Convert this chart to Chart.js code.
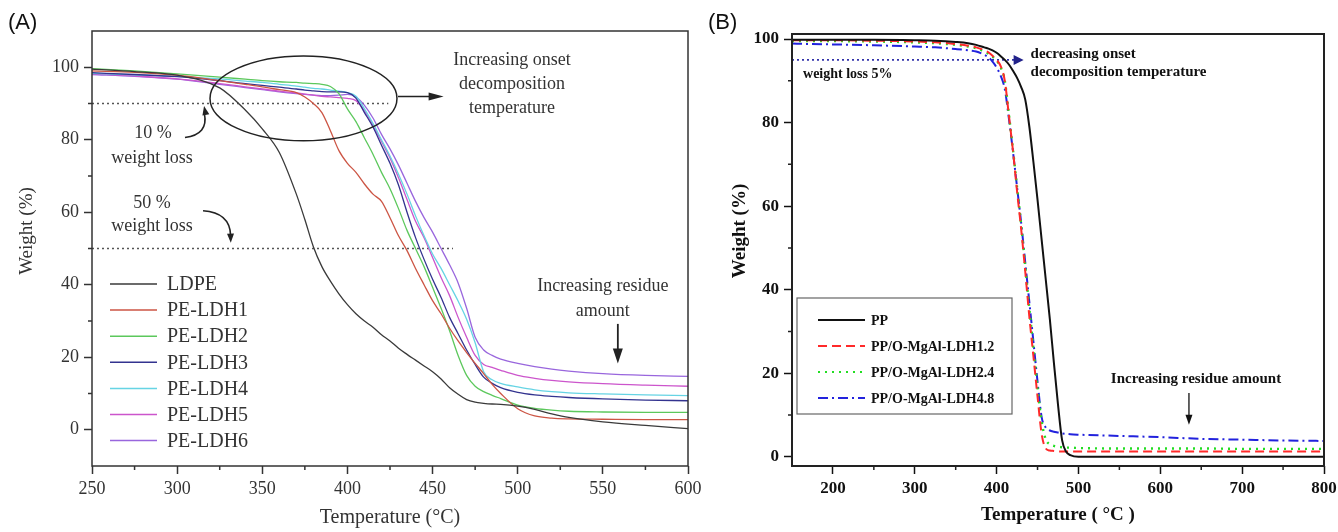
<!DOCTYPE html>
<html><head><meta charset="utf-8">
<script src="https://cdn.jsdelivr.net/npm/chart.js@4.4.1/dist/chart.umd.min.js"></script>
<style>
html,body{margin:0;padding:0;background:#fff;width:1338px;height:532px;overflow:hidden;}
#ca{position:absolute;left:0;top:0;}
#cb{position:absolute;left:700px;top:0;}
</style></head><body>
<canvas id="ca" width="720" height="532"></canvas>
<canvas id="cb" width="638" height="532"></canvas>
<script>
// ---------- Panel A data ----------
const tempA = [250,275,300,325,340,350,360,370,375,380,385,390,395,400,405,410,415,420,425,430,435,440,445,450,455,460,465,470,475,480,485,490,500,510,520,530,550,575,600];
const LDPE    = [99.5,98.8,97.8,94.3,88.2,83,76.5,65,58,50.5,45,41,37.5,34.5,32,30,28.3,26.2,24.5,22.5,20.8,19.2,17.6,16,14,11.6,9.8,8.3,7.6,7.3,7.1,7,6.5,5.6,4.4,3.4,2.2,1.2,0.3];
const PE_LDH1 = [99,98.6,97.8,96.3,95.3,94.6,93.8,93,91.8,90,87.5,82.5,77,73.5,71,67.8,65,63,58.5,53.5,49.4,44.5,40,35.6,32,28,24.5,21.3,18.3,15.5,12.5,10,5.8,3.8,3.2,3,2.9,2.8,2.8];
const PE_LDH2 = [99.6,99,98.2,97.3,96.7,96.3,96,95.8,95.6,95.5,95.3,94.7,92.7,88.5,85,80.5,76,71,66.5,61,55,50,45,39.3,33.5,27.3,20.5,15,12,10.5,9.5,8.6,6.8,5.9,5.4,5.1,4.9,4.8,4.8];
const PE_LDH3 = [98.5,98,97.4,96.3,95.5,95,94.5,94,93.7,93.5,93.3,93.2,93.2,93,91.5,87.5,83.5,78.5,73.5,67.5,60,53,47,41.5,36.5,31,26.5,22,18,14.5,12.8,11.6,10.3,9.6,9.2,8.9,8.5,8.2,8];
const PE_LDH4 = [98.3,97.9,97.5,96.8,96.2,95.8,95.3,94.8,94.5,94.2,94,93.7,93.4,93,92,88.5,84.5,80,75.5,70.5,65,59,53.5,48.5,44.5,40,35.5,30.5,24,16,13.8,12.8,11.8,11,10.5,10.2,9.9,9.6,9.4];
const PE_LDH5 = [98.2,97.6,96.8,95.5,94.6,94,93.4,92.9,92.6,92.3,92,91.8,91.6,91.4,90.8,88,84,79.5,75,69.5,63.5,57.5,53,47.5,42,37,31,25.5,20.5,18,17.2,16.4,15,14.2,13.6,13.2,12.7,12.3,12];
const PE_LDH6 = [98,97.5,96.7,95.3,94.4,93.8,93.2,92.7,92.5,92.3,92.2,92.2,92.3,92.5,91.8,89.5,86,81.5,77.5,73,68,63,58.5,54.5,50,45.5,40.5,33.5,25.5,22,20.5,19.5,18.3,17.4,16.7,16.2,15.5,15,14.7];
const labelsA = ['LDPE','PE-LDH1','PE-LDH2','PE-LDH3','PE-LDH4','PE-LDH5','PE-LDH6'];
const xTicksA = [250,300,350,400,450,500,550,600];
const yTicksA = [0,20,40,60,80,100];
const xMinorA = [275,325,375,425,475,525,575];
const yMinorA = [10,30,50,70,90];

// ---------- Panel B data ----------
const tempB = [150,200,250,300,325,350,365,375,385,390,395,400,405,410,415,420,425,430,435,440,445,450,455,460,465,470,475,480,485,490,500,550,600,650,700,750,800];
const PP     = [99.8,99.8,99.8,99.7,99.6,99.3,99,98.6,98,97.7,97.3,96.7,95.9,95,93.9,92.4,90.7,88.5,85.5,79,70.5,61.5,52,42.5,33,22.5,12.5,4,1.2,0.4,0,0,0,0,0,0,0];
const LDH1_2 = [99.7,99.7,99.6,99.4,99.2,98.8,98.4,98,97.3,96.8,96,95,93.5,90,81.7,73.2,63.5,54.5,44.3,33.5,24,14.4,5.5,2,1.5,1.4,1.3,1.3,1.3,1.3,1.3,1.3,1.3,1.3,1.3,1.3,1.3];
const LDH2_4 = [99.5,99.5,99.4,99.2,99,98.6,98.2,97.8,97,96.5,95.8,94.8,93.2,90,82,73.5,64.5,55.5,45.5,35.5,26,16.5,8.5,4.2,3,2.6,2.4,2.3,2.2,2.2,2.1,2,2,2,1.9,1.9,1.9];
const LDH4_8 = [98.9,98.7,98.5,98.2,98,97.6,97.3,97,96.2,95.6,94.6,93.2,91.2,88,81,73,64.5,56,46.5,37,27.5,18,9.5,7,6.3,6,5.8,5.6,5.5,5.4,5.3,5,4.7,4.3,4.1,3.9,3.8];
const labelsB = ['PP','PP/O-MgAl-LDH1.2','PP/O-MgAl-LDH2.4','PP/O-MgAl-LDH4.8'];
const xTicksB = [200,300,400,500,600,700,800];
const yTicksB = [0,20,40,60,80,100];
const xMinorB = [250,350,450,550,650,750];
const yMinorB = [10,30,50,70,90];

// ---------- styles ----------
const stylesA = [
  {color:'#3a3a3a'}, {color:'#cc5544'}, {color:'#5cc85c'}, {color:'#33338f'},
  {color:'#66d4e4'}, {color:'#cc55cc'}, {color:'#9966dd'}
];
const stylesB = [
  {color:'#111111', dash:[]}, {color:'#ff2a2a', dash:[9,5]},
  {color:'#22dd22', dash:[2,5]}, {color:'#2222dd', dash:[10,4,2,4]}
];
const SERIF = "'Liberation Serif','Times New Roman',serif";
const SANS = "'Liberation Sans',Arial,sans-serif";

function pts(xs, ys){ return xs.map((x,i)=>({x:x, y:ys[i]})); }

function axis(min, max, ticksArr, font, color, isX, size, pad, title){
  const a = {
    type:'linear', min:min, max:max,
    afterBuildTicks: s => { s.ticks = ticksArr.map(v => ({value:v})); },
    ticks: { font:font, color:color, padding:pad, maxRotation:0, autoSkip:false, callback: v => String(v) },
    grid: { display:true, drawOnChartArea:false, drawTicks:true, tickLength:8, tickColor:color, tickWidth:1.5 },
    border: { display:false },
    afterFit: s => {
      if (isX) s.height = size; else s.width = size;
      s.paddingLeft = 0; s.paddingRight = 0; s.paddingTop = 0; s.paddingBottom = 0;
    }
  };
  if (title) a.title = title; else a.title = {display:false};
  return a;
}

function arrowHead(ctx, x, y, ang, len, half, color){
  ctx.save(); ctx.fillStyle = color; ctx.setLineDash([]); ctx.beginPath();
  ctx.moveTo(x, y);
  ctx.lineTo(x - len*Math.cos(ang) + half*Math.sin(ang), y - len*Math.sin(ang) - half*Math.cos(ang));
  ctx.lineTo(x - len*Math.cos(ang) - half*Math.sin(ang), y - len*Math.sin(ang) + half*Math.cos(ang));
  ctx.closePath(); ctx.fill(); ctx.restore();
}

function frameAndMinor(chart, color, lw, xMinor, yMinor){
  const ctx = chart.ctx, a = chart.chartArea;
  const xs = chart.scales.x, ys = chart.scales.y;
  ctx.save();
  ctx.strokeStyle = color; ctx.lineWidth = lw; ctx.setLineDash([]);
  ctx.strokeRect(a.left, a.top, a.right - a.left, a.bottom - a.top);
  ctx.lineWidth = 1.5;
  ctx.beginPath();
  xMinor.forEach(v => { const px = xs.getPixelForValue(v); ctx.moveTo(px, a.bottom); ctx.lineTo(px, a.bottom + 4); });
  yMinor.forEach(v => { const py = ys.getPixelForValue(v); ctx.moveTo(a.left, py); ctx.lineTo(a.left - 4, py); });
  ctx.stroke();
  ctx.restore();
}

// ---------- Panel A ----------
const plugA = {
  id:'panelA',
  beforeDatasetsDraw(chart){
    const ctx = chart.ctx, X = v => chart.scales.x.getPixelForValue(v), Y = v => chart.scales.y.getPixelForValue(v);
    ctx.save();
    ctx.strokeStyle = '#555'; ctx.lineWidth = 1.5; ctx.setLineDash([2,3]);
    ctx.beginPath(); ctx.moveTo(X(250), Y(90)); ctx.lineTo(X(424), Y(90)); ctx.stroke();
    ctx.beginPath(); ctx.moveTo(X(250), Y(50)); ctx.lineTo(X(462), Y(50)); ctx.stroke();
    ctx.restore();
  },
  afterDraw(chart){
    const ctx = chart.ctx, X = v => chart.scales.x.getPixelForValue(v), Y = v => chart.scales.y.getPixelForValue(v);
    frameAndMinor(chart, '#333', 1.5, xMinorA, yMinorA);
    ctx.save();
    ctx.fillStyle = '#333'; ctx.strokeStyle = '#222';
    // y title
    ctx.save(); ctx.translate(27, 231); ctx.rotate(-Math.PI/2);
    ctx.font = '19px ' + SERIF; ctx.textAlign = 'center'; ctx.textBaseline = 'middle';
    ctx.fillText('Weight (%)', 0, 0); ctx.restore();
    // ellipse
    const cx = X(374.2), cy = Y(91.4);
    const rx = X(374.2 + 54.9) - cx, ry = cy - Y(91.4 + 11.7);
    ctx.lineWidth = 1.5; ctx.beginPath(); ctx.ellipse(cx, cy, rx, ry, 0, 0, Math.PI*2); ctx.stroke();
    // arrow to label
    ctx.lineWidth = 1.5; ctx.beginPath(); ctx.moveTo(X(429.7), Y(91.9)); ctx.lineTo(X(450), Y(91.9)); ctx.stroke();
    arrowHead(ctx, X(456.5), Y(91.9), 0, 15, 4, '#222');
    // texts
    ctx.font = '18px ' + SERIF; ctx.textAlign = 'center'; ctx.textBaseline = 'middle';
    ctx.fillText('Increasing onset', X(496.6), Y(101.8));
    ctx.fillText('decomposition', X(496.6), Y(95.2));
    ctx.fillText('temperature', X(496.6), Y(88.6));
    ctx.fillText('10 %', X(285.8), Y(81.7));
    ctx.fillText('weight loss', X(285.2), Y(74.8));
    ctx.fillText('50 %', X(285.2), Y(62.6));
    ctx.fillText('weight loss', X(285.2), Y(56));
    ctx.fillText('Increasing residue', X(550), Y(39.7));
    ctx.fillText('amount', X(550), Y(32.8));
    // curved arrows
    ctx.lineWidth = 1.6;
    let sx = X(304.6), sy = Y(80.6), qx = X(318.5), qy = Y(81.5), ex = X(316), ey = Y(87.2);
    ctx.beginPath(); ctx.moveTo(sx, sy); ctx.quadraticCurveTo(qx, qy, ex, ey); ctx.stroke();
    arrowHead(ctx, X(315.8), Y(89.3), Math.atan2(ey - qy, ex - qx), 9, 3.5, '#222');
    sx = X(315.2); sy = Y(60.4); qx = X(331); qy = Y(59.9); ex = X(331.4); ey = Y(53.6);
    ctx.beginPath(); ctx.moveTo(sx, sy); ctx.quadraticCurveTo(qx, qy, ex, ey); ctx.stroke();
    arrowHead(ctx, X(331.5), Y(51.6), Math.atan2(ey - qy, ex - qx), 9, 3.5, '#222');
    // residue arrow
    ctx.lineWidth = 1.8; ctx.beginPath(); ctx.moveTo(X(558.8), Y(29.2)); ctx.lineTo(X(558.8), Y(21)); ctx.stroke();
    arrowHead(ctx, X(558.8), Y(18.3), Math.PI/2, 15, 5, '#222');
    // legend
    const lx = 110, ly = 284, gap = 26.1;
    ctx.font = '20px ' + SERIF; ctx.textAlign = 'left'; ctx.textBaseline = 'middle';
    chart.data.datasets.forEach((d, i) => {
      const y = ly + i*gap;
      ctx.strokeStyle = d.borderColor; ctx.lineWidth = 1.5; ctx.setLineDash([]);
      ctx.beginPath(); ctx.moveTo(lx, y); ctx.lineTo(lx + 47, y); ctx.stroke();
      ctx.fillStyle = '#333'; ctx.fillText(d.label, lx + 57, y + 1);
    });
    // panel label
    ctx.fillStyle = '#111'; ctx.font = '22px ' + SANS; ctx.textAlign = 'left'; ctx.textBaseline = 'middle';
    ctx.fillText('(A)', 8, 23);
    ctx.restore();
  }
};

const dataSetsA = [LDPE, PE_LDH1, PE_LDH2, PE_LDH3, PE_LDH4, PE_LDH5, PE_LDH6].map((arr, i) => ({
  label: labelsA[i], data: pts(tempA, arr), borderColor: stylesA[i].color,
  borderWidth: 1.3, pointRadius: 0, cubicInterpolationMode: 'monotone', fill: false
}));

new Chart(document.getElementById('ca'), {
  type: 'line',
  data: { datasets: dataSetsA },
  options: {
    responsive: false, animation: false, devicePixelRatio: 1,
    layout: { padding: { top: 31, right: 32, left: 0, bottom: 0 } },
    plugins: { legend: { display: false }, tooltip: { enabled: false } },
    scales: {
      x: axis(250, 600, xTicksA, {family: SERIF, size: 18}, '#333', true, 66, 4,
        {display: true, text: 'Temperature (°C)', color: '#333', font: {family: SERIF, size: 20}, padding: {top: 0, bottom: 2}}),
      y: axis(-10, 110, yTicksA, {family: SERIF, size: 18}, '#333', false, 92, 5, null)
    }
  },
  plugins: [plugA]
});

// ---------- Panel B ----------
const plugB = {
  id:'panelB',
  beforeDatasetsDraw(chart){
    const ctx = chart.ctx, X = v => chart.scales.x.getPixelForValue(v), Y = v => chart.scales.y.getPixelForValue(v);
    ctx.save();
    ctx.strokeStyle = '#3333aa'; ctx.lineWidth = 1.6; ctx.setLineDash([2,3]);
    ctx.beginPath(); ctx.moveTo(X(150), Y(95)); ctx.lineTo(X(424), Y(95)); ctx.stroke();
    ctx.restore();
    arrowHead(ctx, X(433), Y(95), 0, 10, 5, '#22228a');
  },
  afterDraw(chart){
    const ctx = chart.ctx, X = v => chart.scales.x.getPixelForValue(v), Y = v => chart.scales.y.getPixelForValue(v);
    frameAndMinor(chart, '#222', 2, xMinorB, yMinorB);
    ctx.save();
    ctx.fillStyle = '#111'; ctx.strokeStyle = '#111';
    ctx.save(); ctx.translate(40, 231); ctx.rotate(-Math.PI/2);
    ctx.font = 'bold 19px ' + SERIF; ctx.textAlign = 'center'; ctx.textBaseline = 'middle';
    ctx.fillText('Weight (%)', 0, 0); ctx.restore();
    ctx.font = 'bold 14px ' + SERIF; ctx.textAlign = 'left'; ctx.textBaseline = 'middle';
    ctx.fillText('weight loss 5%', X(163.5), Y(91.5));
    ctx.font = 'bold 15px ' + SERIF;
    ctx.fillText('decreasing onset', X(441.5), Y(96.3));
    ctx.fillText('decomposition temperature', X(441.5), Y(92));
    ctx.textAlign = 'center';
    ctx.fillText('Increasing residue amount', X(643.6), Y(18.7));
    ctx.lineWidth = 1.3; ctx.setLineDash([]);
    ctx.beginPath(); ctx.moveTo(X(635), Y(15.3)); ctx.lineTo(X(635), Y(9.5)); ctx.stroke();
    arrowHead(ctx, X(635), Y(7.7), Math.PI/2, 10, 3.5, '#111');
    // legend box
    ctx.strokeStyle = '#666'; ctx.lineWidth = 1.2;
    ctx.strokeRect(97, 298, 215, 116);
    const lx = 118, ly = 320, gap = 26;
    ctx.font = 'bold 14px ' + SERIF; ctx.textAlign = 'left'; ctx.textBaseline = 'middle';
    chart.data.datasets.forEach((d, i) => {
      const y = ly + i*gap;
      ctx.strokeStyle = d.borderColor; ctx.lineWidth = 2; ctx.setLineDash(d.borderDash || []);
      ctx.beginPath(); ctx.moveTo(lx, y); ctx.lineTo(lx + 47, y); ctx.stroke();
      ctx.fillStyle = '#111'; ctx.fillText(d.label, lx + 53, y + 1);
    });
    ctx.setLineDash([]);
    ctx.fillStyle = '#111'; ctx.font = '22px ' + SANS; ctx.textAlign = 'left'; ctx.textBaseline = 'middle';
    ctx.fillText('(B)', 8, 23);
    ctx.restore();
  }
};

const dataSetsB = [PP, LDH1_2, LDH2_4, LDH4_8].map((arr, i) => ({
  label: labelsB[i], data: pts(tempB, arr), borderColor: stylesB[i].color, borderDash: stylesB[i].dash,
  borderWidth: i === 2 ? 2.4 : 2, pointRadius: 0, cubicInterpolationMode: 'monotone', fill: false
}));

new Chart(document.getElementById('cb'), {
  type: 'line',
  data: { datasets: dataSetsB },
  options: {
    responsive: false, animation: false, devicePixelRatio: 1,
    layout: { padding: { top: 34, right: 14, left: 0, bottom: 0 } },
    plugins: { legend: { display: false }, tooltip: { enabled: false } },
    scales: {
      x: axis(150, 800, xTicksB, {family: SERIF, size: 17, weight: 'bold'}, '#111', true, 66, 4,
        {display: true, text: 'Temperature ( °C )', color: '#111', font: {family: SERIF, size: 19, weight: 'bold'}, padding: {top: 0, bottom: 6}}),
      y: axis(-2.2, 101.2, yTicksB, {family: SERIF, size: 17, weight: 'bold'}, '#111', false, 92, 5, null)
    }
  },
  plugins: [plugB]
});
</script>
</body></html>
